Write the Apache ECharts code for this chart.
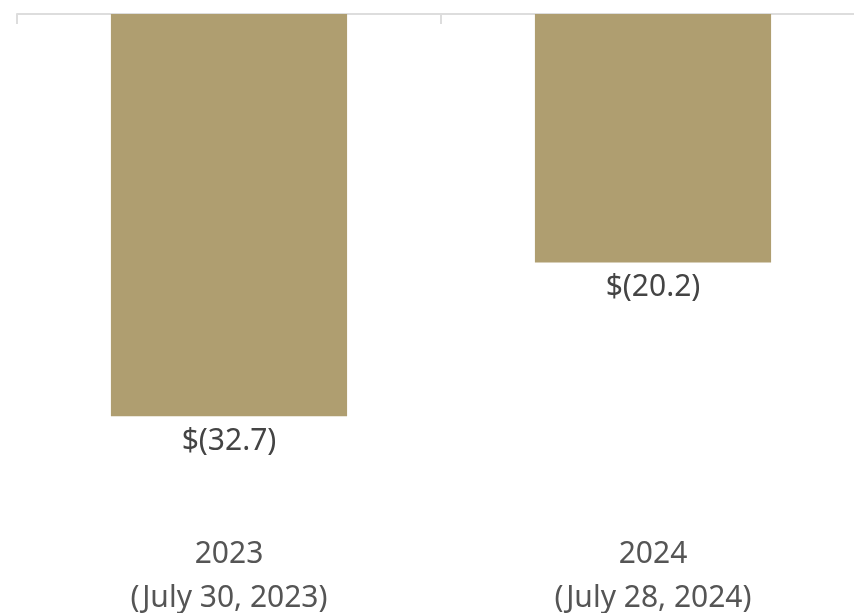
<!DOCTYPE html>
<html>
<head>
<meta charset="utf-8">
<script src="https://cdn.jsdelivr.net/npm/echarts@6/dist/echarts.min.js"></script>
<style>
  html, body { margin: 0; padding: 0; background: #fff; }
  #chart { width: 854px; height: 613px; }
</style>
</head>
<body>
<div id="chart"></div>
<script>
// 年份类目
const categories = ['2023\n(July 30, 2023)', '2024\n(July 28, 2024)']
// 数值（百万美元，负值）
const values = [-32.7, -20.2]
// 柱上标签
const valueLabels = ['$(32.7)', '$(20.2)']

const myChart = echarts.init(document.getElementById('chart'))

myChart.setOption({
  animation: false,
  textStyle: { fontFamily: '"Source Sans Pro", "Noto Sans", "Open Sans", sans-serif' },
  grid: { left: 17, width: 848, top: 14, bottom: 107, containLabel: false, outerBoundsMode: 'none' },
  xAxis: [
    {
      // 底部类目标签
      type: 'category',
      position: 'bottom',
      data: categories,
      axisLine: { show: false },
      axisTick: { show: false },
      axisLabel: { color: '#555', fontSize: 30, lineHeight: 44, margin: 26 }
    },
    {
      // 顶部零线
      type: 'category',
      position: 'top',
      data: categories,
      axisLine: { show: true, lineStyle: { color: '#ddd', width: 2 } },
      axisTick: { show: true, inside: true, length: 10, lineStyle: { color: '#ddd', width: 2 } },
      axisLabel: { show: false }
    }
  ],
  yAxis: {
    type: 'value',
    min: -40,
    max: 0,
    show: false
  },
  series: [
    {
      type: 'bar',
      xAxisIndex: 0,
      data: values,
      barWidth: '55.7%',
      itemStyle: { color: '#AF9E70' },
      label: {
        show: true,
        position: 'bottom',
        distance: 10,
        color: '#444',
        fontSize: 30,
        formatter: (p) => valueLabels[p.dataIndex]
      }
    }
  ]
})
</script>
</body>
</html>
